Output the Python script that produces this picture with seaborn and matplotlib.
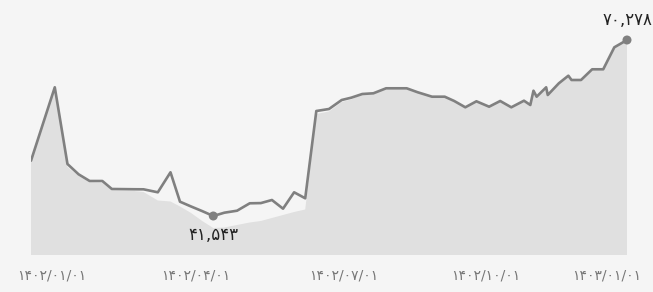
import matplotlib
matplotlib.use("Agg")
import matplotlib.pyplot as plt
import matplotlib.transforms as mtransforms
import seaborn as sns
import pandas as pd

# --- data (days counted from 1402/01/01) ---
days = [-11, 4, 12, 19, 26, 34, 40, 47, 54, 60, 69, 77, 83, 90, 97, 104,
        111, 119, 127, 134, 141, 148, 155, 162, 169, 177, 185, 191, 198,
        205, 213, 220, 226, 233, 242, 250, 256, 263, 270, 278, 285, 292,
        300, 304, 306, 308, 314, 315, 322, 328, 330, 336, 343, 350, 357, 365]

price = [50572, 62556, 50033, 48351, 47257, 47257, 45951, 45930, 45910,
         45900, 45413, 48678, 43878, 43094, 42343, 41543, 42082, 42408,
         43617, 43650, 44155, 42735, 45413, 44433, 58686, 59013, 60482,
         60858, 61462, 61576, 62393, 62393, 62393, 61740, 61021, 61021,
         60319, 59290, 60270, 59388, 60319, 59290, 60368, 59666, 62001,
         61021, 62556, 61299, 63209, 64450, 63748, 63748, 65495, 65495,
         69086, 70278]

area = [50572, 62556, 49543, 48074, 47013, 46931, 45706, 45657, 45625,
        45462, 44074, 43910, 43094, 42033, 40727, 39584, 39665, 40074,
        40482, 40727, 41217, 41706, 42196, 42604, 58196, 58604, 60156,
        60564, 61462, 61576, 62393, 62393, 62393, 61740, 61021, 61021,
        60319, 59290, 60270, 59388, 60319, 59290, 60368, 59666, 62001,
        61021, 62556, 61299, 63209, 64450, 63748, 63748, 65495, 65495,
        69086, 70278]

tick_days = [0, 93, 186, 276, 365]
tick_labels = ["۱۴۰۲/۰۱/۰۱", "۱۴۰۲/۰۴/۰۱", "۱۴۰۲/۰۷/۰۱", "۱۴۰۲/۱۰/۰۱", "۱۴۰۳/۰۱/۰۱"]

persian = str.maketrans("0123456789", "۰۱۲۳۴۵۶۷۸۹")

BG = "#f5f5f5"
LINE = "#808080"
FILL = "#e0e0e0"

df = pd.DataFrame({"day": days, "price": price, "area": area})

sns.set_theme(style="white")
plt.rcParams["font.family"] = ["DejaVu Sans"]

fig = plt.figure(figsize=(6.53, 2.92), dpi=100, facecolor=BG)
ax = fig.add_axes([31 / 653, 37 / 292, 596 / 653, 235 / 292])
ax.set_facecolor(BG)

ax.fill_between(df["day"], df["area"], 0, color=FILL, linewidth=0, zorder=1)
sns.lineplot(data=df, x="day", y="price", ax=ax, color=LINE, linewidth=1.9,
             zorder=3)

# highlight lowest and latest points
lo = df.loc[df["price"].idxmin()]
last = df.iloc[-1]
pts = pd.DataFrame([lo, last])
sns.scatterplot(data=pts, x="day", y="price", ax=ax, color=LINE, s=42,
                edgecolor="none", zorder=4, clip_on=False)

ax.annotate(f"{int(lo['price']):,}".translate(persian), (lo["day"], lo["price"]),
            xytext=(0, -7), textcoords="offset points", ha="center", va="top",
            fontsize=12, color="#222222")
ax.annotate(f"{int(last['price']):,}".translate(persian), (last["day"], last["price"]),
            xytext=(0, 8), textcoords="offset points", ha="center", va="bottom",
            fontsize=12, color="#222222", annotation_clip=False)

ax.set_xlim(days[0], days[-1])
ax.set_ylim(35175, 73543)
ax.set_xticks(tick_days)
ax.set_xticklabels(tick_labels, fontsize=10, color="#777777")
ax.set_yticks([])
ax.tick_params(axis="x", length=0, pad=10)
ax.set_xlabel("")
ax.set_ylabel("")
for s in ax.spines.values():
    s.set_visible(False)

# keep edge labels inside the canvas
labels = ax.get_xticklabels()
shift_first = mtransforms.ScaledTranslation(3 / 100, 0, fig.dpi_scale_trans)
shift_last = mtransforms.ScaledTranslation(-20 / 100, 0, fig.dpi_scale_trans)
labels[0].set_transform(labels[0].get_transform() + shift_first)
labels[-1].set_transform(labels[-1].get_transform() + shift_last)

fig.savefig("out.png", dpi=100, facecolor=BG)
